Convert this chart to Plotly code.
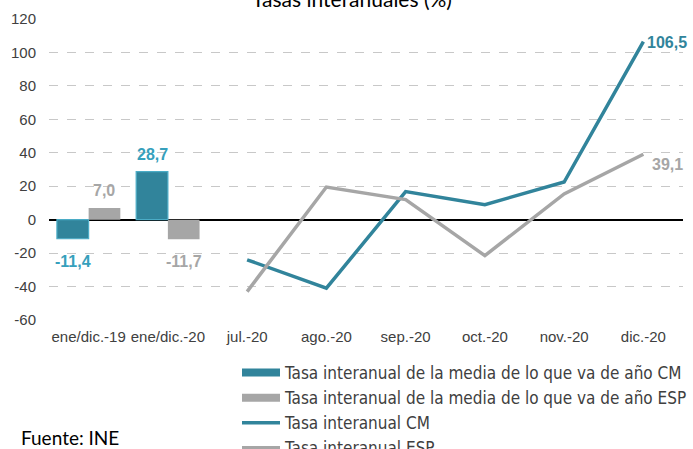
import plotly.graph_objects as go

categories = ["ene/dic.-19", "ene/dic.-20", "jul.-20", "ago.-20", "sep.-20", "oct.-20", "nov.-20", "dic.-20"]
bar_categories = ["ene/dic.-19", "ene/dic.-20"]
bar_cm = [-11.4, 28.7]
bar_esp = [7.0, -11.7]
line_categories = ["jul.-20", "ago.-20", "sep.-20", "oct.-20", "nov.-20", "dic.-20"]
line_cm = [-24.0, -41.0, 16.8, 9.0, 22.5, 106.5]
line_esp = [-43.0, 19.5, 12.0, -21.5, 15.4, 39.1]
y_ticks = [-60, -40, -20, 0, 20, 40, 60, 80, 100, 120]
y_tick_labels = ["-60", "-40", "-20", "0", "20", "40", "60", "80", "100", "120"]

names = [
    "Tasa interanual de la media de lo que va de año CM",
    "Tasa interanual de la media de lo que va de año ESP",
    "Tasa interanual CM",
    "Tasa interanual ESP",
]

TEAL = "#31849B"
TEAL_LIGHT = "#4BACC6"
TEAL_LABEL = "#36A0BC"
GRAY = "#A6A6A6"

def fmt(v):
    return f"{v:.1f}".replace(".", ",")

fig = go.Figure()
fig.add_trace(go.Bar(x=bar_categories, y=bar_cm, name=names[0], marker=dict(color=TEAL, line=dict(color=TEAL_LIGHT, width=1.2)), showlegend=False))
fig.add_trace(go.Bar(x=bar_categories, y=bar_esp, name=names[1], marker=dict(color=GRAY, line=dict(width=0)), showlegend=False))
fig.add_trace(go.Scatter(x=line_categories, y=line_cm, mode="lines", name=names[2], line=dict(color=TEAL, width=3.5), showlegend=False))
fig.add_trace(go.Scatter(x=line_categories, y=line_esp, mode="lines", name=names[3], line=dict(color=GRAY, width=3.5), showlegend=False))

# legend entries
legend_styles = [(TEAL, 8), (GRAY, 8), (TEAL, 3.5), (GRAY, 3.5)]
for nm, (c, w) in zip(names, legend_styles):
    fig.add_trace(go.Scatter(x=[None], y=[None], mode="lines", name=nm, line=dict(color=c, width=w), showlegend=True))

annotations = []
# bar value labels
for i, cat in enumerate(bar_categories):
    for val, off, col in ((bar_cm[i], -0.2, TEAL_LABEL), (bar_esp[i], 0.2, GRAY)):
        annotations.append(dict(
            x=i + off, y=val, xref="x", yref="y", text=fmt(val), showarrow=False,
            yanchor="bottom" if val >= 0 else "top",
            yshift=7 if val >= 0 else -12,
            font=dict(family="Liberation Sans, Arial", size=16, color=col, weight="bold"),
        ))
last = len(line_categories) - 1
annotations.append(dict(x=categories.index(line_categories[last]), y=line_cm[last], xref="x", yref="y",
                        text=fmt(line_cm[last]), showarrow=False, xanchor="left", yanchor="middle", xshift=2, yshift=-1,
                        font=dict(family="Liberation Sans, Arial", size=16, color=TEAL, weight="bold")))
annotations.append(dict(x=categories.index(line_categories[last]), y=line_esp[last], xref="x", yref="y",
                        text=fmt(line_esp[last]), showarrow=False, xanchor="left", yanchor="middle", xshift=7, yshift=-10,
                        font=dict(family="Liberation Sans, Arial", size=16, color=GRAY, weight="bold")))
annotations.append(dict(x=(19 - 49) / 634, y=(320 - 437) / 301, xref="paper", yref="paper", text="Fuente: INE",
                        showarrow=False, xanchor="left", yanchor="middle",
                        font=dict(family="Lato", size=19, color="#000000")))

fig.update_layout(
    width=693, height=449,
    margin=dict(l=49, r=10, t=19, b=129, autoexpand=False),
    paper_bgcolor="white", plot_bgcolor="white",
    barmode="group", bargap=0.2, bargroupgap=0,
    title=dict(text="Tasas interanuales (%)", x=352 / 693, xanchor="center", xref="container",
               y=1.0, yanchor="middle", yref="container", automargin=False,
               font=dict(family="Lato", size=21, color="#000000")),
    xaxis=dict(type="category", categoryorder="array", categoryarray=categories, range=[-0.5, 7.5],
               showgrid=False, showline=False, zeroline=False, ticks="", tickangle=0, automargin=False,
               tickfont=dict(family="Liberation Sans, Arial", size=15, color="#404040"), ticklabelstandoff=6),
    yaxis=dict(range=[-60, 120], tickvals=y_ticks, ticktext=y_tick_labels, showgrid=True, gridcolor="#C8C8C8",
               griddash="dash", gridwidth=1,
               zeroline=True, zerolinecolor="#000000", zerolinewidth=1.5, showline=False, ticks="",
               tickfont=dict(family="Liberation Sans, Arial", size=15, color="#404040"), ticklabelstandoff=12,
               automargin=False),
    legend=dict(x=(237 - 49) / 634, xanchor="left", y=(320 - 355) / 301, yanchor="top",
                font=dict(family="Liberation Sans Narrow, DejaVu Sans Condensed", size=17, color="#404040"),
                bgcolor="rgba(0,0,0,0)", tracegroupgap=0, itemwidth=38),
    annotations=annotations,
    showlegend=True,
)

fig.write_html("out.html", config={"displayModeBar": False}, post_script="document.body.style.margin='0';")
